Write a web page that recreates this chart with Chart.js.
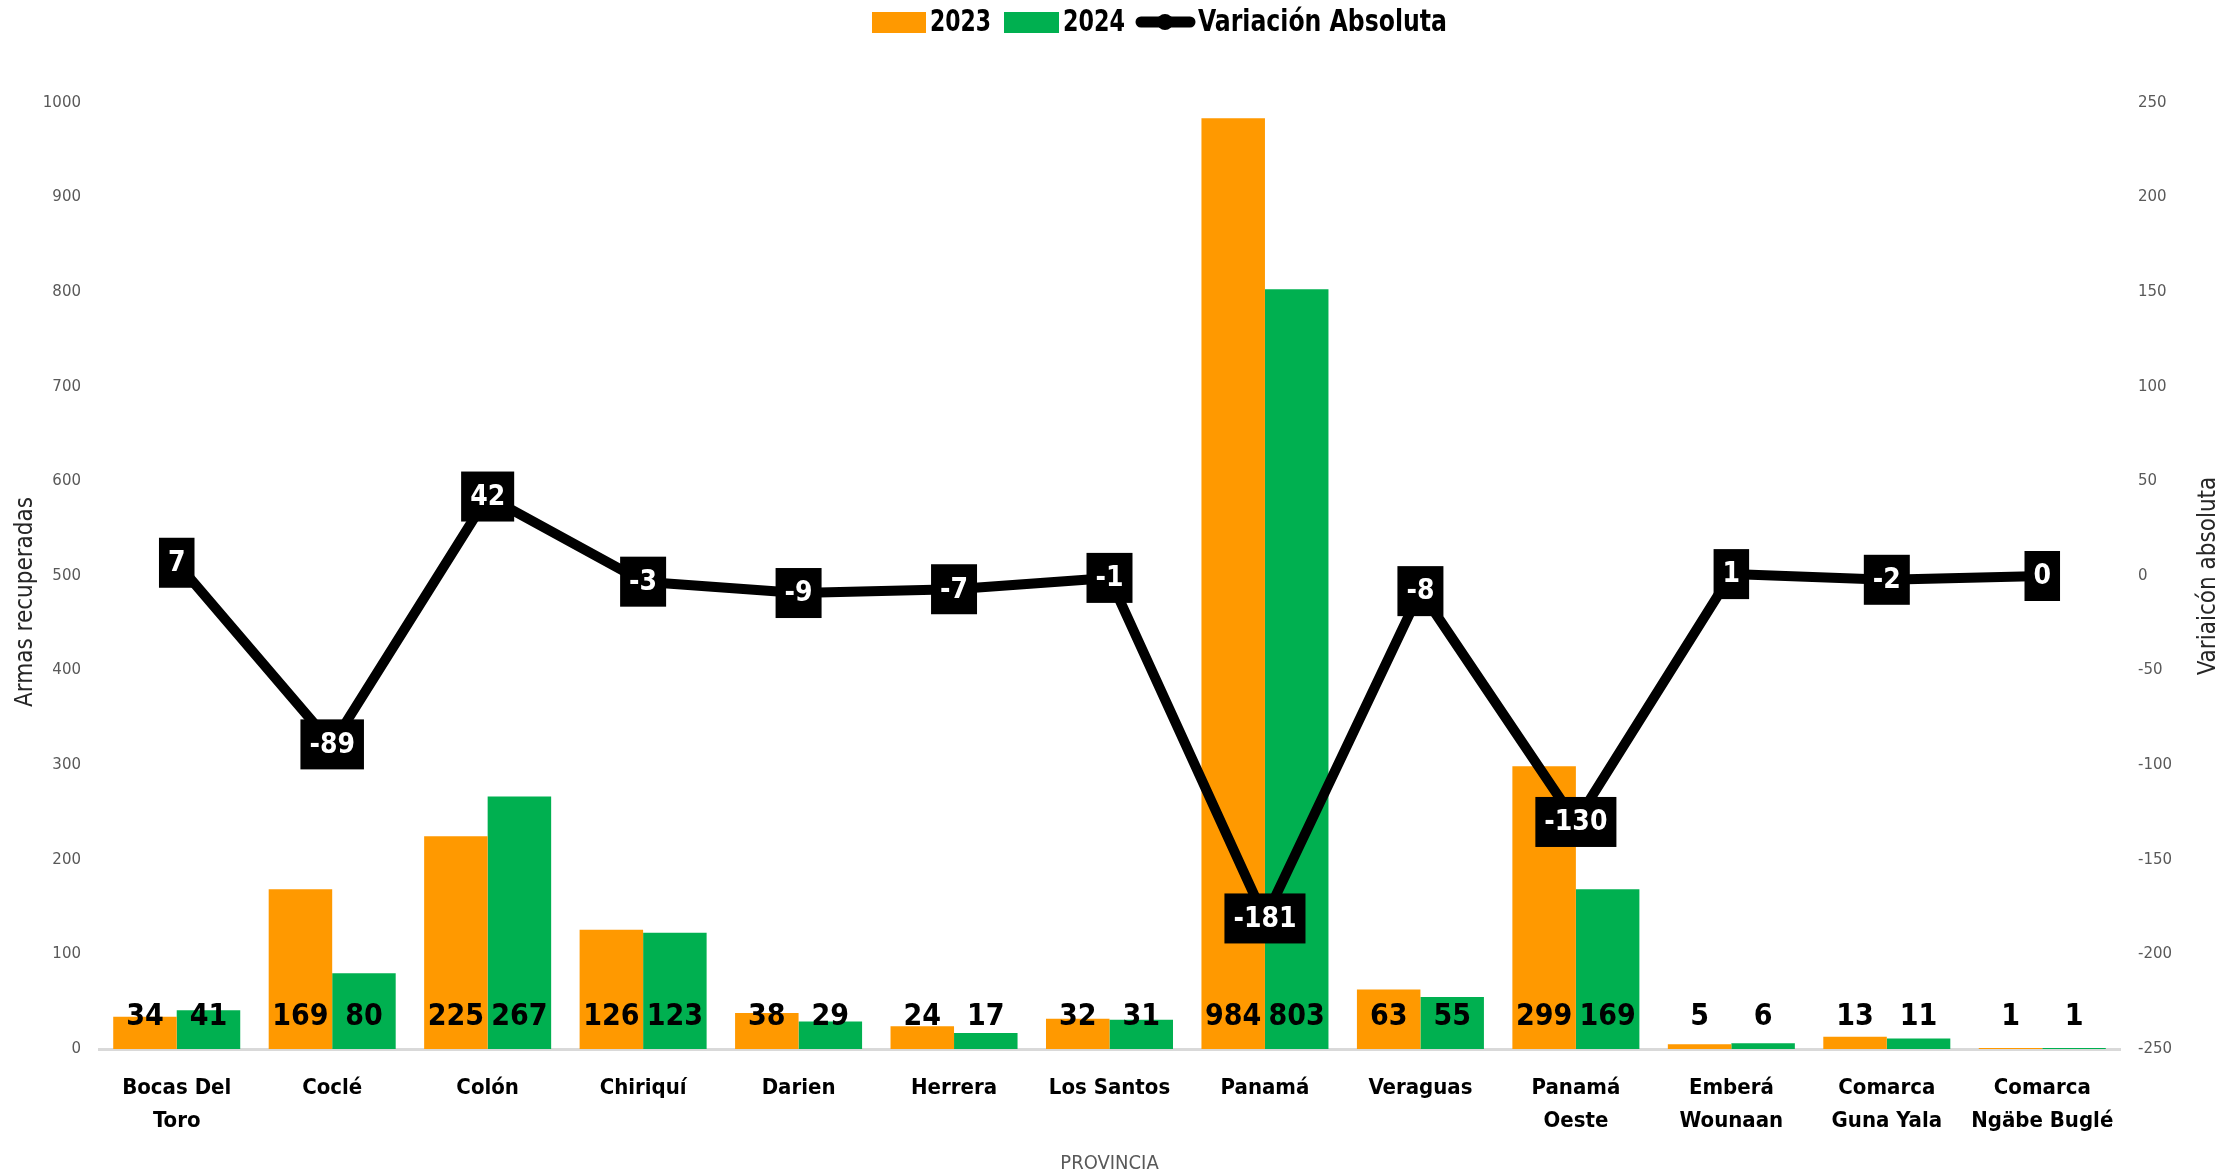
<!DOCTYPE html>
<html>
<head>
<meta charset="utf-8">
<script src="https://cdn.jsdelivr.net/npm/chart.js@4"></script>
<style>
  html, body { margin: 0; padding: 0; background: #fff; }
  #wrap { width: 2229px; height: 1174px; }
</style>
</head>
<body>
<div id="wrap"><canvas id="chart"></canvas></div>
<script>
// Data
const provincias = [['Bocas Del', 'Toro'], 'Coclé', 'Colón', 'Chiriquí', 'Darien', 'Herrera', 'Los Santos',
    'Panamá', 'Veraguas', ['Panamá', 'Oeste'], ['Emberá', 'Wounaan'], ['Comarca', 'Guna Yala'], ['Comarca', 'Ngäbe Buglé']];
const armas2023 = [34, 169, 225, 126, 38, 24, 32, 984, 63, 299, 5, 13, 1];
const armas2024 = [41, 80, 267, 123, 29, 17, 31, 803, 55, 169, 6, 11, 1];
const variacion = [7, -89, 42, -3, -9, -7, -1, -181, -8, -130, 1, -2, 0];

const ORANGE = '#FF9900';
const GREEN = '#00B050';
const COND = "'DejaVu Sans Condensed', 'DejaVu Sans', sans-serif";

// value labels for bars and line
const valueLabels = {
    id: 'valueLabels',
    afterDatasetsDraw(chart) {
        const ctx = chart.ctx;
        const base = chart.scales.y.getPixelForValue(0);
        ctx.save();
        ctx.textAlign = 'center';
        ctx.textBaseline = 'middle';
        [0, 1].forEach(function(di) {
            const meta = chart.getDatasetMeta(di);
            const vals = chart.data.datasets[di].data;
            ctx.font = 'bold 30px ' + COND;
            ctx.fillStyle = '#000';
            meta.data.forEach(function(bar, i) {
                ctx.fillText(String(vals[i]), bar.x, base - 32);
            });
        });
        const lm = chart.getDatasetMeta(2);
        ctx.font = 'bold 28px ' + COND;
        lm.data.forEach(function(pt, i) {
            const txt = String(variacion[i]);
            const w = ctx.measureText(txt).width + 18;
            const h = 50;
            ctx.fillStyle = '#000';
            ctx.fillRect(pt.x - w / 2, pt.y - h / 2, w, h);
            ctx.fillStyle = '#fff';
            ctx.fillText(txt, pt.x, pt.y + 1);
        });
        ctx.restore();
    }
};

// legend and axis titles drawn like the original
const extras = {
    id: 'extras',
    afterDraw(chart) {
        const ctx = chart.ctx;
        const cy = 22;
        ctx.save();
        ctx.font = 'bold 31px ' + COND;
        ctx.textBaseline = 'middle';
        ctx.textAlign = 'left';
        ctx.fillStyle = ORANGE;
        ctx.fillRect(872, cy - 10, 54, 21);
        ctx.fillStyle = '#000';
        ctx.fillText('2023', 930, cy + 1, 61);
        ctx.fillStyle = GREEN;
        ctx.fillRect(1004, cy - 10, 55, 21);
        ctx.fillStyle = '#000';
        ctx.fillText('2024', 1063, cy + 1, 62);
        ctx.strokeStyle = '#000';
        ctx.lineWidth = 11;
        ctx.lineCap = 'round';
        ctx.beginPath();
        ctx.moveTo(1141, cy);
        ctx.lineTo(1190, cy);
        ctx.stroke();
        ctx.beginPath();
        ctx.arc(1165, cy, 8, 0, Math.PI * 2);
        ctx.fill();
        ctx.fillText('Variación Absoluta', 1198, cy + 1, 249);

        // axis titles, both reading upwards
        ctx.font = '24px ' + COND;
        ctx.fillStyle = '#262626';
        ctx.textAlign = 'center';
        [['Armas recuperadas', 26, 602], ['Variaicón absoluta', 2209, 576]].forEach(function(t) {
            ctx.save();
            ctx.translate(t[1], t[2]);
            ctx.rotate(-Math.PI / 2);
            ctx.fillText(t[0], 0, 0);
            ctx.restore();
        });
        ctx.restore();
    }
};

const ctx = document.getElementById('chart').getContext('2d');
new Chart(ctx, {
    data: {
        labels: provincias,
        datasets: [
            { type: 'bar', label: '2023', data: armas2023, backgroundColor: ORANGE, yAxisID: 'y',
              categoryPercentage: 0.817, barPercentage: 1.0, order: 2 },
            { type: 'bar', label: '2024', data: armas2024, backgroundColor: GREEN, yAxisID: 'y',
              categoryPercentage: 0.817, barPercentage: 1.0, order: 2 },
            { type: 'line', label: 'Variación Absoluta', data: variacion, yAxisID: 'y1',
              borderColor: '#000', backgroundColor: '#000', borderWidth: 10, pointRadius: 6,
              borderJoinStyle: 'round', tension: 0, order: 0 }
        ]
    },
    options: {
        responsive: true,
        maintainAspectRatio: false,
        animation: false,
        layout: { padding: { top: 103, left: 0, right: 0, bottom: 0 } },
        plugins: {
            legend: { display: false },
            tooltip: { enabled: false }
        },
        scales: {
            x: {
                grid: { display: false, drawTicks: false },
                border: { display: true, color: '#D9D9D9', width: 3 },
                ticks: { color: '#000', font: { family: COND, size: 22, weight: 'bold', lineHeight: 1.5 },
                         padding: 23, maxRotation: 0, autoSkip: false },
                title: { display: true, text: 'PROVINCIA', color: '#595959',
                         font: { family: COND, size: 20, lineHeight: 1.0 }, padding: { top: 0, bottom: 0 } },
                afterFit(s) { s.height = 125; }
            },
            y: {
                position: 'left',
                min: 0, max: 1000,
                grid: { display: false, drawTicks: false },
                border: { display: false },
                ticks: { stepSize: 100, color: '#595959', font: { family: "'DejaVu Sans', sans-serif", size: 15 },
                         padding: 18, callback: v => String(v) },
                afterFit(s) { s.width = 99; }
            },
            y1: {
                position: 'right',
                min: -250, max: 250,
                grid: { display: false, drawTicks: false },
                border: { display: false },
                ticks: { stepSize: 50, color: '#595959', font: { family: "'DejaVu Sans', sans-serif", size: 15 },
                         padding: 18, callback: v => String(v) },
                afterFit(s) { s.width = 109; }
            }
        }
    },
    plugins: [valueLabels, extras]
});
</script>
</body>
</html>
